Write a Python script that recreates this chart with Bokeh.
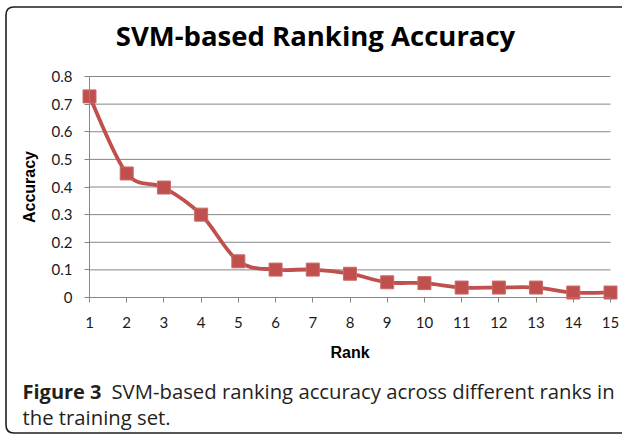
from bokeh.plotting import figure
from bokeh.models import Label, FixedTicker, Range1d, ColumnDataSource
from bokeh.embed import file_html
from bokeh.resources import INLINE

# ---- data ----
ranks = [1, 2, 3, 4, 5, 6, 7, 8, 9, 10, 11, 12, 13, 14, 15]
accuracy = [0.728, 0.449, 0.398, 0.300, 0.131, 0.101, 0.101, 0.086, 0.055, 0.052,
            0.036, 0.036, 0.036, 0.018, 0.018]
y_ticks = [0, 0.1, 0.2, 0.3, 0.4, 0.5, 0.6, 0.7, 0.8]
y_tick_labels = ["0", "0.1", "0.2", "0.3", "0.4", "0.5", "0.6", "0.7", "0.8"]
title_text = "SVM-based Ranking Accuracy"
x_label = "Rank"
y_label = "Accuracy"
caption_bold = "Figure 3"
caption_1 = "SVM-based ranking accuracy across different ranks in"
caption_2 = "the training set."

RED = "#C0504D"
GRID = "#868686"
BORDER = "#1e1e1e"
TXT = "#231F20"

W, H = 622, 434
# pixel layout of the plotting area (x=1 at 89px, x=15 at 610px; y=0 at 297px, y=0.8 at 76px)
PX_L, PX_R, PY_B, PY_T = 89, 610, 297, 76
X0, X1 = ranks[0], ranks[-1]
Y0, Y1 = y_ticks[0], y_ticks[-1]


def dx(px):
    return X0 + (px - PX_L) * (X1 - X0) / (PX_R - PX_L)


def dy(py):
    return Y0 + (PY_B - py) * (Y1 - Y0) / (PY_B - PY_T)


p = figure(width=W, height=H, output_backend="svg", toolbar_location=None,
           x_range=Range1d(dx(0), dx(W)), y_range=Range1d(dy(H), dy(0)),
           min_border=0, min_border_left=0, min_border_right=0,
           min_border_top=0, min_border_bottom=0)
p.outline_line_color = None
p.background_fill_color = "white"
p.border_fill_color = "white"
p.grid.grid_line_color = None

for ax in (p.xaxis[0], p.yaxis[0]):
    ax.axis_line_color = GRID
    ax.major_tick_line_color = GRID
    ax.minor_tick_line_color = None
    ax.major_tick_in = 0
    ax.major_tick_out = 5
    ax.major_label_text_font = "Lato"
    ax.major_label_text_font_size = "15px"
    ax.major_label_text_color = "#1a1a1a"
    ax.axis_label_text_font = "Liberation Sans"
    ax.axis_label_text_font_style = "bold"
    ax.axis_label_text_font_size = "16px"
    ax.axis_label_text_color = "#000000"

p.xaxis.fixed_location = Y0
p.xaxis.bounds = (X0, X1)
p.xaxis.ticker = FixedTicker(ticks=ranks)
p.xaxis.major_label_standoff = 14
p.xaxis.axis_label = x_label
p.xaxis.axis_label_standoff = 13

p.yaxis.fixed_location = X0
p.yaxis.bounds = (Y0, Y1)
p.yaxis.ticker = FixedTicker(ticks=y_ticks)
p.yaxis.major_label_overrides = {t: l for t, l in zip(y_ticks, y_tick_labels)}
p.yaxis.major_label_standoff = 12
p.yaxis.axis_label = y_label
p.yaxis.axis_label_standoff = 11

# horizontal gridlines at the y ticks, across the ranks span
gt = [t for t in y_ticks if t != Y0]
p.segment(x0=[X0] * len(gt), x1=[X1] * len(gt), y0=gt, y1=gt,
          line_color=GRID, line_width=1)

# smooth line (Catmull-Rom -> cubic Bezier) computed from the data
n = len(ranks)
x0s, y0s, x1s, y1s, c0x, c0y, c1x, c1y = ([] for _ in range(8))
for i in range(n - 1):
    pm = max(i - 1, 0)
    pn = min(i + 2, n - 1)
    x0s.append(ranks[i]); y0s.append(accuracy[i])
    x1s.append(ranks[i + 1]); y1s.append(accuracy[i + 1])
    c0x.append(ranks[i] + (ranks[i + 1] - ranks[pm]) / 6)
    c0y.append(accuracy[i] + (accuracy[i + 1] - accuracy[pm]) / 6)
    c1x.append(ranks[i + 1] - (ranks[pn] - ranks[i]) / 6)
    c1y.append(accuracy[i + 1] - (accuracy[pn] - accuracy[i]) / 6)
bz = ColumnDataSource(dict(x0=x0s, y0=y0s, x1=x1s, y1=y1s,
                           cx0=c0x, cy0=c0y, cx1=c1x, cy1=c1y))
p.bezier(x0="x0", y0="y0", x1="x1", y1="y1", cx0="cx0", cy0="cy0",
         cx1="cx1", cy1="cy1", source=bz, line_color=RED, line_width=3.8)
p.scatter(ranks, accuracy, marker="square", size=13, fill_color=RED,
          line_color="#C96A67", line_width=1)

# ---- outer rounded frame (left, top, bottom sides) ----
BX, TY, BY, R = 5.5, 6.5, 432.5, 8
bw = 1.6
p.line([dx(BX), dx(BX)], [dy(TY + R), dy(BY - R)], line_color=BORDER, line_width=bw)
p.line([dx(BX + R), dx(W)], [dy(TY), dy(TY)], line_color=BORDER, line_width=bw)
p.line([dx(BX + R), dx(W)], [dy(BY), dy(BY)], line_color=BORDER, line_width=bw)
p.quadratic(x0=[dx(BX), dx(BX)], y0=[dy(TY + R), dy(BY - R)],
            x1=[dx(BX + R), dx(BX + R)], y1=[dy(TY), dy(BY)],
            cx=[dx(BX), dx(BX)], cy=[dy(TY), dy(BY)],
            line_color=BORDER, line_width=bw)

# ---- title ----
p.add_layout(Label(x=dx(315), y=dy(35), text=title_text, text_font="Open Sans",
                   text_font_style="bold", text_font_size="27.5px",
                   text_align="center", text_baseline="middle",
                   text_color="#000000"))

# ---- caption ----
cap_font = "Open Sans"
p.add_layout(Label(x=dx(22), y=dy(390.5), text=caption_bold, text_font=cap_font,
                   text_font_style="bold", text_font_size="20px",
                   text_align="left", text_baseline="middle", text_color=TXT))
p.add_layout(Label(x=dx(111), y=dy(390.5), text=caption_1, text_font=cap_font,
                   text_font_size="20.3px",
                   text_align="left", text_baseline="middle", text_color=TXT))
p.add_layout(Label(x=dx(22), y=dy(416.5), text=caption_2, text_font=cap_font,
                   text_font_size="20.3px",
                   text_align="left", text_baseline="middle", text_color=TXT))

open("out.html", "w").write(file_html(p, INLINE))
